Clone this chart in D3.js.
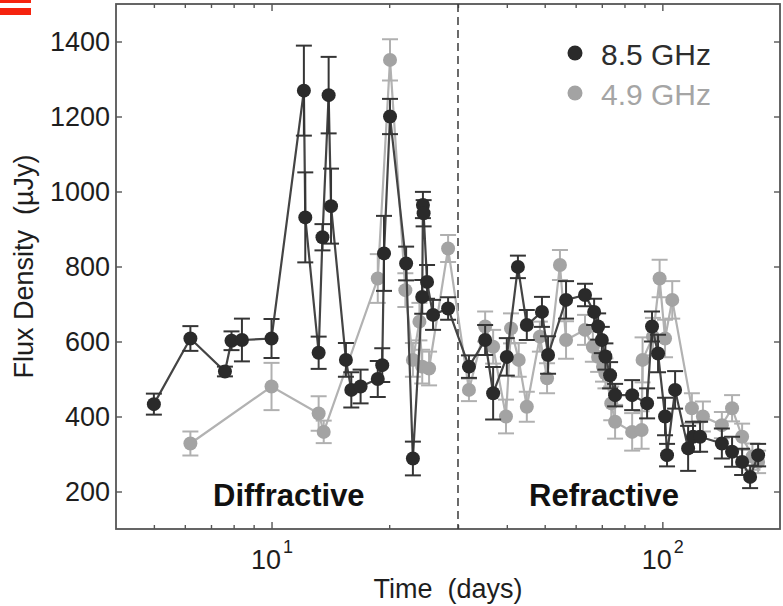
<!DOCTYPE html>
<html>
<head>
<meta charset="utf-8">
<script src="https://cdn.jsdelivr.net/npm/d3@7"></script>
<style>
  body { margin: 0; background: #fff; }
  svg { display: block; font-family: "Liberation Sans", Arial, Helvetica, sans-serif; }
</style>
</head>
<body>
<div id="chart"></div>
<script>
// 8.5 GHz (dark)
const days85 = [5.0, 6.2, 7.6, 7.9, 8.4, 10.0, 12.1, 12.2, 13.2, 13.5, 14.0, 14.2, 15.5, 16.0, 16.9, 18.7,
  19.2, 19.4, 20.1, 22.1, 23.0, 24.3, 24.4, 24.5, 25.0, 25.9, 28.3, 32.0, 35.2, 36.9, 40.0, 42.7, 45.0,
  49.2, 51.0, 56.7, 63.4, 66.9, 68.5, 70.0, 71.5, 73.5, 75.7, 83.7, 91.4, 94.1, 97.5, 101.6, 102.8, 107.8, 116.4,
  119.8, 124.9, 142, 150.8, 160, 167.7, 175.8];
const flux85 = [433, 608, 520, 602, 604, 608, 1269, 931, 570, 878, 1257, 961, 551, 471, 480, 500,
  537, 835, 1200, 808, 288, 719, 964, 942, 759, 671, 688, 533, 604, 462, 559, 799, 644,
  679, 564, 711, 724, 679, 640, 604, 560, 510, 457, 457, 435, 640, 568, 400, 297, 471, 315,
  346, 346, 328, 306, 279, 239, 297];
const err85 = [28, 33, 13, 25, 57, 52, 120, 120, 43, 35, 102, 100, 45, 47, 45, 48,
  45, 100, 47, 45, 45, 45, 35, 35, 45, 40, 30, 30, 40, 70, 50, 30, 40,
  40, 50, 50, 30, 35, 35, 35, 35, 35, 30, 40, 40, 40, 50, 50, 30, 50, 60,
  40, 40, 40, 40, 35, 30, 30];

// 4.9 GHz (light)
const days49 = [6.2, 10.0, 13.2, 13.6, 18.7, 20.1, 22.0, 23.0, 23.9, 24.3, 25.3, 28.3, 32.0, 35.2,
  36.9, 39.8, 41.0, 42.9, 45.0, 48.6, 50.7, 54.7, 56.7, 63.4, 66.4, 68.5, 70.5, 71.5, 74.0, 75.7, 83.7, 88.5,
  89.0, 94.6, 98.4, 101.6, 106, 119, 127, 142, 150.8, 160, 170, 175.8];
const flux49 = [328, 480, 408, 359, 768, 1351, 737, 551, 653, 533, 528, 848, 471, 640,
  586, 400, 635, 551, 426, 613, 502, 804, 604, 631, 586, 559, 533, 515, 435, 386, 359, 364,
  551, 613, 768, 608, 711, 422, 400, 377, 422, 346, 293, 279];
const err49 = [32, 63, 46, 30, 65, 55, 45, 45, 50, 45, 45, 36, 30, 40,
  45, 45, 40, 45, 40, 40, 40, 40, 50, 40, 40, 40, 40, 40, 45, 45, 50, 50,
  60, 50, 50, 50, 50, 40, 40, 35, 35, 35, 35, 30];

const yTicks = [200, 400, 600, 800, 1000, 1200, 1400];
const xMajor = [10, 100];
const xMinor = [5, 6, 7, 8, 9, 20, 30, 40, 50, 60, 70, 80, 90];
const boundaryDay = 30;

const width = 783, height = 606;
const plot = { left: 116, right: 780, top: 4, bottom: 529 };

const svg = d3.select('#chart')
  .append('svg')
  .attr('width', width)
  .attr('height', height);

// little red marks in the top-left corner of the original
svg.append('rect').attr('x', 0).attr('y', 0).attr('width', 31).attr('height', 3).attr('fill', '#f5230f');
svg.append('rect').attr('x', 0).attr('y', 8).attr('width', 31).attr('height', 7).attr('fill', '#f5230f');

const x = d3.scaleLog()
  .domain([4, 200])
  .range([plot.left, plot.right]);

const y = d3.scaleLinear()
  .domain([100, 1500])
  .range([plot.bottom, plot.top]);

const axisColor = '#555';

function styleAxis(g) {
  g.select('.domain').remove();
  g.selectAll('.tick line').attr('stroke', axisColor).attr('stroke-width', 1.4);
}

// bottom / top ticks
svg.append('g')
  .attr('transform', `translate(0,${plot.bottom})`)
  .call(d3.axisBottom(x).tickValues(xMinor).tickSize(-4).tickFormat(''))
  .call(styleAxis);

const xAxis = svg.append('g')
  .attr('transform', `translate(0,${plot.bottom})`)
  .call(d3.axisBottom(x).tickValues(xMajor).tickSize(-7))
  .call(styleAxis);

xAxis.selectAll('.tick text')
  .attr('y', 40)
  .attr('dy', null)
  .attr('fill', '#1e1e1e')
  .style('font-size', '27px')
  .text(null)
  .each(function(d) {
    const t = d3.select(this);
    t.append('tspan').text('10');
    t.append('tspan')
      .attr('dy', -16)
      .attr('dx', 2)
      .style('font-size', '18px')
      .text(Math.round(Math.log10(d)));
  });

svg.append('g')
  .attr('transform', `translate(0,${plot.top})`)
  .call(d3.axisTop(x).tickValues(xMinor).tickSize(-4).tickFormat(''))
  .call(styleAxis);

svg.append('g')
  .attr('transform', `translate(0,${plot.top})`)
  .call(d3.axisTop(x).tickValues(xMajor).tickSize(-7).tickFormat(''))
  .call(styleAxis);

// left / right ticks
svg.append('g')
  .attr('transform', `translate(${plot.left},0)`)
  .call(d3.axisLeft(y).tickValues(yTicks).tickSize(-6).tickPadding(6).tickFormat(d3.format('d')))
  .call(styleAxis)
  .selectAll('.tick text')
  .attr('fill', '#1e1e1e')
  .style('font-size', '27px');

svg.append('g')
  .attr('transform', `translate(${plot.right},0)`)
  .call(d3.axisRight(y).tickValues(yTicks).tickSize(-6).tickFormat(''))
  .call(styleAxis);

// frame
svg.append('rect')
  .attr('x', plot.left)
  .attr('y', plot.top)
  .attr('width', plot.right - plot.left)
  .attr('height', plot.bottom - plot.top)
  .attr('fill', 'none')
  .attr('stroke', axisColor)
  .attr('stroke-width', 1.8);

// dashed boundary between regimes
svg.append('line')
  .attr('x1', x(boundaryDay))
  .attr('x2', x(boundaryDay))
  .attr('y1', plot.top)
  .attr('y2', plot.bottom)
  .attr('stroke', '#3a3a3a')
  .attr('stroke-width', 1.5)
  .attr('stroke-dasharray', '8,5');

// regime labels
svg.append('text')
  .attr('x', 213)
  .attr('y', 506)
  .attr('font-weight', 'bold')
  .style('font-size', '31px')
  .attr('fill', '#111')
  .text('Diffractive');

svg.append('text')
  .attr('x', 529)
  .attr('y', 506)
  .attr('font-weight', 'bold')
  .style('font-size', '31px')
  .attr('fill', '#111')
  .text('Refractive');

const series = [
  { days: days49, flux: flux49, err: err49, line: '#b2b2b2', bar: '#b0b0b0', dot: '#a3a3a3' },
  { days: days85, flux: flux85, err: err85, line: '#444', bar: '#353535', dot: '#2a2a2a' }
];

const line = d3.line()
  .x(d => x(d.t))
  .y(d => y(d.v));

const cap = 8;

series.forEach(s => {
  const pts = s.days.map((t, i) => ({ t: t, v: s.flux[i], e: s.err[i] }));
  const g = svg.append('g');

  g.append('path')
    .datum(pts)
    .attr('d', line)
    .attr('fill', 'none')
    .attr('stroke', s.line)
    .attr('stroke-width', 2.2);

  const bars = g.selectAll('.bar')
    .data(pts)
    .join('g')
    .attr('stroke', s.bar)
    .attr('stroke-width', 2);

  bars.append('line')
    .attr('x1', d => x(d.t)).attr('x2', d => x(d.t))
    .attr('y1', d => y(d.v - d.e)).attr('y2', d => y(d.v + d.e));
  bars.append('line')
    .attr('x1', d => x(d.t) - cap).attr('x2', d => x(d.t) + cap)
    .attr('y1', d => y(d.v + d.e)).attr('y2', d => y(d.v + d.e));
  bars.append('line')
    .attr('x1', d => x(d.t) - cap).attr('x2', d => x(d.t) + cap)
    .attr('y1', d => y(d.v - d.e)).attr('y2', d => y(d.v - d.e));

  g.selectAll('circle')
    .data(pts)
    .join('circle')
    .attr('cx', d => x(d.t))
    .attr('cy', d => y(d.v))
    .attr('r', 7)
    .attr('fill', s.dot);
});

// legend
const legend = [
  { label: '8.5 GHz', dot: '#2a2a2a', text: '#2e2e2e', cy: 53 },
  { label: '4.9 GHz', dot: '#a3a3a3', text: '#a5a5a5', cy: 93 }
];
const lg = svg.append('g');
lg.selectAll('circle')
  .data(legend)
  .join('circle')
  .attr('cx', 575)
  .attr('cy', d => d.cy)
  .attr('r', 7.5)
  .attr('fill', d => d.dot);
lg.selectAll('text')
  .data(legend)
  .join('text')
  .attr('x', 601)
  .attr('y', d => d.cy + 12)
  .style('font-size', '30px')
  .attr('fill', d => d.text)
  .text(d => d.label);

// axis titles
svg.append('text')
  .attr('x', (plot.left + plot.right) / 2)
  .attr('y', 598)
  .attr('text-anchor', 'middle')
  .style('font-size', '27px')
  .style('white-space', 'pre')
  .attr('fill', '#1e1e1e')
  .text('Time  (days)');

svg.append('text')
  .attr('transform', `translate(33,${(plot.top + plot.bottom) / 2}) rotate(-90)`)
  .attr('text-anchor', 'middle')
  .style('font-size', '27px')
  .style('white-space', 'pre')
  .attr('fill', '#1e1e1e')
  .text('Flux Density  (\u00b5Jy)');
</script>
</body>
</html>
